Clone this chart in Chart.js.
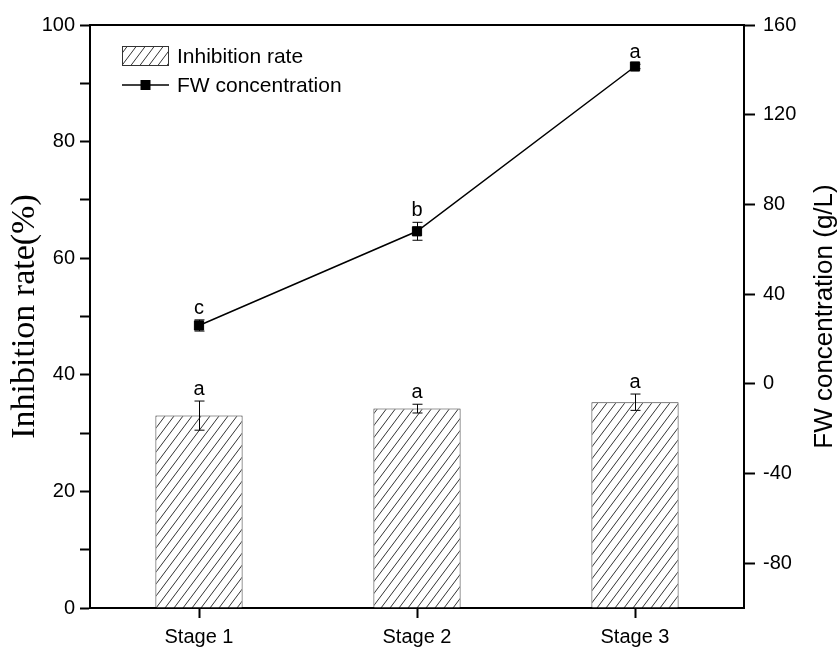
<!DOCTYPE html>
<html>
<head>
<meta charset="utf-8">
<script src="https://cdn.jsdelivr.net/npm/chart.js@4.4.1/dist/chart.umd.min.js"></script>
<style>
  html, body { margin: 0; padding: 0; background: #fff; }
  #wrap { width: 838px; height: 650px; }
</style>
</head>
<body>
<div id="wrap"><canvas id="chart" width="838" height="650"></canvas></div>
<script>
// Categories and measured series
const stages = ['Stage 1', 'Stage 2', 'Stage 3'];
const inhibitionRate = [33.0, 34.2, 35.3];       // %
const inhibitionErr = [2.5, 0.75, 1.4];
const inhibitionLetters = ['a', 'a', 'a'];
const fwConcentration = [26, 68, 141.5];          // g/L
const fwErr = [2.5, 4, 1];
const fwLetters = ['c', 'b', 'a'];

// Axis ticks
const leftTicks = [0, 10, 20, 30, 40, 50, 60, 70, 80, 90, 100];
const rightTicks = [-80, -40, 0, 40, 80, 120, 160];

const SANS = "'Liberation Sans', Arial, sans-serif";
const SERIF = "'Liberation Serif', 'Times New Roman', serif";

// Diagonal hatch fill for the bars
function makeHatch() {
  const w = 9, h = 12;
  const c = document.createElement('canvas');
  c.width = w; c.height = h;
  const g = c.getContext('2d');
  g.fillStyle = '#fff';
  g.fillRect(0, 0, w, h);
  g.strokeStyle = '#333';
  g.lineWidth = 1;
  g.beginPath();
  g.moveTo(-w, 2 * h); g.lineTo(2 * w, -h);
  g.moveTo(-2 * w, 2 * h); g.lineTo(w, -h);
  g.moveTo(0, 2 * h); g.lineTo(3 * w, -h);
  g.stroke();
  return c;
}
const hatchCanvas = makeHatch();
const hatch = document.getElementById('chart').getContext('2d').createPattern(hatchCanvas, 'repeat');

// Box around the plotting area (top edge; the other three are axis borders)
const framePlugin = {
  id: 'frame',
  afterDraw(chart) {
    const { ctx, chartArea: a } = chart;
    ctx.save();
    ctx.strokeStyle = '#000';
    ctx.lineWidth = 2;
    ctx.beginPath();
    ctx.moveTo(a.left - 1, a.top);
    ctx.lineTo(a.right + 1, a.top);
    ctx.stroke();
    ctx.restore();
  }
};

// Error bars and significance letters
function drawErrors(chart, dsIndex, values, errs, letters, scaleId) {
  const { ctx } = chart;
  const meta = chart.getDatasetMeta(dsIndex);
  const scale = chart.scales[scaleId];
  ctx.save();
  ctx.strokeStyle = '#000';
  ctx.fillStyle = '#000';
  ctx.lineWidth = 1;
  ctx.font = '20px ' + SANS;
  ctx.textAlign = 'center';
  ctx.textBaseline = 'alphabetic';
  meta.data.forEach((el, i) => {
    const x = Math.round(el.x) + 0.5;
    const yTop = scale.getPixelForValue(values[i] + errs[i]);
    const yBot = scale.getPixelForValue(values[i] - errs[i]);
    ctx.beginPath();
    ctx.moveTo(x, yTop); ctx.lineTo(x, yBot);
    ctx.moveTo(x - 5, yTop); ctx.lineTo(x + 5, yTop);
    ctx.moveTo(x - 5, yBot); ctx.lineTo(x + 5, yBot);
    ctx.stroke();
    ctx.fillText(letters[i], el.x, yTop - 6);
  });
  ctx.restore();
}
const errorPlugin = {
  id: 'errors',
  afterDatasetsDraw(chart) {
    drawErrors(chart, 0, inhibitionRate, inhibitionErr, inhibitionLetters, 'y');
    drawErrors(chart, 1, fwConcentration, fwErr, fwLetters, 'y1');
  }
};

// Legend in the upper-left corner of the plot
const legendPlugin = {
  id: 'boxLegend',
  afterDraw(chart) {
    const { ctx } = chart;
    const bx = 122, bw = 47;
    const r1 = 56, r2 = 85;
    ctx.save();
    ctx.fillStyle = hatch;
    ctx.fillRect(bx, r1 - 10, bw, 20);
    ctx.strokeStyle = '#333';
    ctx.lineWidth = 1;
    ctx.strokeRect(bx + 0.5, r1 - 9.5, bw - 1, 19);
    ctx.strokeStyle = '#000';
    ctx.lineWidth = 1.5;
    ctx.beginPath();
    ctx.moveTo(bx, r2); ctx.lineTo(bx + bw, r2);
    ctx.stroke();
    ctx.fillStyle = '#000';
    ctx.fillRect(bx + bw / 2 - 5, r2 - 5, 10, 10);
    ctx.font = '21px ' + SANS;
    ctx.textAlign = 'left';
    ctx.textBaseline = 'middle';
    ctx.fillText(chart.data.datasets[0].label, 177, r1 + 1);
    ctx.fillText(chart.data.datasets[1].label, 177, r2 + 1);
    ctx.restore();
  }
};

// Right-hand axis title, reading bottom to top
const rightTitlePlugin = {
  id: 'rightTitle',
  afterDraw(chart) {
    const { ctx, chartArea: a } = chart;
    ctx.save();
    ctx.translate(825, (a.top + a.bottom) / 2);
    ctx.rotate(-Math.PI / 2);
    ctx.font = '26px ' + SANS;
    ctx.fillStyle = '#000';
    ctx.textAlign = 'center';
    ctx.textBaseline = 'middle';
    ctx.fillText('FW concentration (g/L)', 0, 0);
    ctx.restore();
  }
};

new Chart(document.getElementById('chart'), {
  data: {
    labels: stages,
    datasets: [
      {
        type: 'bar',
        label: 'Inhibition rate',
        data: inhibitionRate,
        yAxisID: 'y',
        backgroundColor: hatch,
        borderColor: '#333',
        borderWidth: 1,
        barPercentage: 0.4,
        categoryPercentage: 1.0,
        order: 2
      },
      {
        type: 'line',
        label: 'FW concentration',
        data: fwConcentration,
        yAxisID: 'y1',
        borderColor: '#000',
        borderWidth: 1.5,
        tension: 0,
        pointStyle: 'rect',
        pointRadius: 6.5,
        pointBorderWidth: 1,
        pointBackgroundColor: '#000',
        pointBorderColor: '#000',
        order: 1
      }
    ]
  },
  options: {
    responsive: false,
    animation: false,
    devicePixelRatio: 1,
    layout: { padding: { top: 25, left: 0, right: 0, bottom: 0 } },
    plugins: {
      legend: { display: false },
      tooltip: { enabled: false }
    },
    scales: {
      x: {
        type: 'category',
        offset: true,
        grid: { display: true, drawOnChartArea: false, offset: false, tickLength: 10, tickWidth: 2, tickColor: '#000' },
        border: { display: true, color: '#000', width: 2 },
        ticks: { color: '#000', font: { family: SANS, size: 20 }, padding: 7, maxRotation: 0 },
        afterFit(scale) { scale.height = 42; }
      },
      y: {
        position: 'left',
        min: 0,
        max: 100,
        afterBuildTicks(scale) { scale.ticks = leftTicks.map(v => ({ value: v })); },
        grid: { display: true, drawOnChartArea: false, tickLength: 10, tickWidth: 2, tickColor: '#000' },
        border: { display: true, color: '#000', width: 2 },
        ticks: {
          color: '#000', font: { family: SANS, size: 20 }, padding: 5, autoSkip: false,
          callback: v => (v % 20 === 0 ? String(v) : '')
        },
        title: {
          display: true, text: 'Inhibition rate(%)', color: '#000',
          font: { family: SERIF, size: 34, lineHeight: 1.2 }, padding: { top: 5, bottom: 0 }
        },
        afterFit(scale) { scale.width = 90; }
      },
      y1: {
        position: 'right',
        min: -100,
        max: 160,
        afterBuildTicks(scale) { scale.ticks = rightTicks.map(v => ({ value: v })); },
        grid: { display: true, drawOnChartArea: false, tickLength: 11, tickWidth: 2, tickColor: '#000' },
        border: { display: true, color: '#000', width: 2 },
        ticks: { color: '#000', font: { family: SANS, size: 20 }, padding: 8, autoSkip: false },
        afterFit(scale) { scale.width = 94; }
      }
    }
  },
  plugins: [framePlugin, errorPlugin, legendPlugin, rightTitlePlugin]
});
</script>
</body>
</html>
